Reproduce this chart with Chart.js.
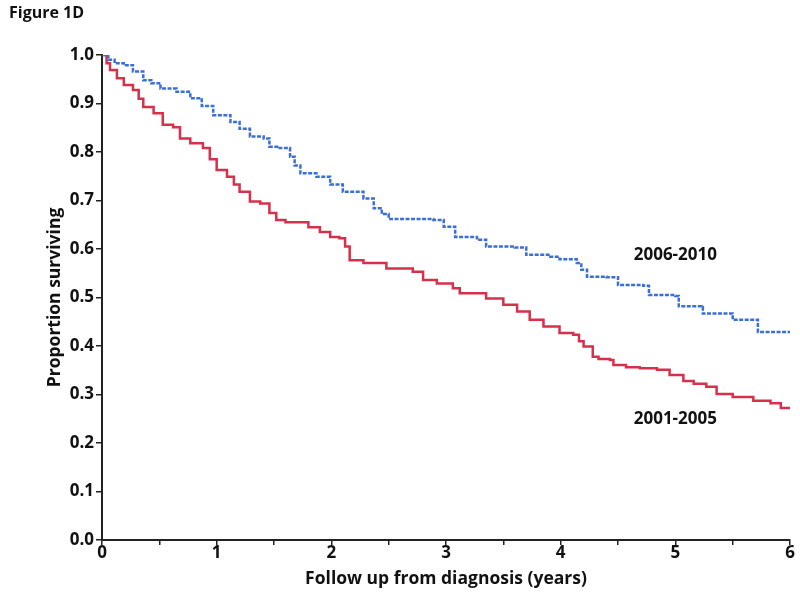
<!DOCTYPE html>
<html>
<head>
<meta charset="utf-8">
<script src="https://cdn.jsdelivr.net/npm/chart.js@4"></script>
<style>
  html, body { margin: 0; padding: 0; background: #fff; }
  .wrap { position: relative; width: 800px; height: 594px; }
  .fig-title { position: absolute; left: 9px; top: 1px; font: bold 16px "Open Sans", sans-serif; color: #111; }
</style>
</head>
<body>
<div class="wrap">
  <div class="fig-title">Figure 1D</div>
  <canvas id="km" width="800" height="594"></canvas>
</div>
<script>
// survival: [years, proportion]
const late = [ // 2006-2010
  [0, 1.0], [0.055, 0.99], [0.11, 0.983], [0.19, 0.979], [0.27, 0.966], [0.36, 0.948],
  [0.43, 0.942], [0.51, 0.931], [0.65, 0.924],
  [0.77, 0.911], [0.87, 0.895], [0.97, 0.876], [1.12, 0.862], [1.2, 0.848], [1.29, 0.832], [1.41, 0.828], [1.46, 0.811],
  [1.55, 0.808], [1.64, 0.79], [1.68, 0.772], [1.73, 0.756], [1.87, 0.749], [1.99, 0.733], [2.10, 0.718],
  [2.28, 0.704], [2.37, 0.684], [2.44, 0.672], [2.50, 0.662], [2.89, 0.66], [2.98, 0.646], [3.08, 0.625],
  [3.27, 0.619], [3.35, 0.605], [3.60, 0.603], [3.70, 0.588], [3.91, 0.584], [3.99, 0.579],
  [4.14, 0.571], [4.18, 0.557], [4.23, 0.543], [4.40, 0.542], [4.50, 0.526], [4.72, 0.524], [4.77, 0.505],
  [5.0, 0.503], [5.03, 0.482], [5.23, 0.480], [5.24, 0.467], [5.50, 0.454], [5.72, 0.429],
  [6.0, 0.429]
];
const early = [ // 2001-2005
  [0, 1.0], [0.04, 0.983], [0.07, 0.969], [0.13, 0.952], [0.19, 0.938], [0.27, 0.928], [0.32, 0.91], [0.36, 0.893], [0.45, 0.880],
  [0.53, 0.856], [0.62, 0.851], [0.68, 0.828], [0.77, 0.818], [0.88, 0.808], [0.94, 0.785], [1.0, 0.763],
  [1.09, 0.749], [1.15, 0.733], [1.2, 0.718], [1.29, 0.698], [1.38, 0.694], [1.46, 0.674], [1.52, 0.66],
  [1.6, 0.655], [1.8, 0.645], [1.9, 0.635], [1.99, 0.625], [2.07, 0.622], [2.12, 0.605],
  [2.16, 0.577], [2.28, 0.571], [2.48, 0.560], [2.71, 0.553], [2.80, 0.536], [2.92, 0.529],
  [3.06, 0.519], [3.12, 0.509], [3.35, 0.498], [3.50, 0.485], [3.62, 0.471], [3.73, 0.454],
  [3.85, 0.44], [3.99, 0.427], [4.11, 0.423], [4.16, 0.41], [4.20, 0.399], [4.28, 0.378], [4.33, 0.373],
  [4.43, 0.371], [4.46, 0.361], [4.57, 0.356], [4.69, 0.354], [4.84, 0.351], [4.95, 0.340],
  [5.07, 0.328], [5.16, 0.322], [5.27, 0.316], [5.36, 0.301], [5.50, 0.295], [5.68, 0.287],
  [5.83, 0.282], [5.92, 0.272], [6.0, 0.272]
];
const seriesNames = ['2006-2010', '2001-2005'];
const seriesColors = ['#3b6fd6', '#d6304b'];
// where the series names sit, in data units
const nameSpots = [[5.0, 0.588], [5.0, 0.249]];

const font = { family: '"Open Sans", sans-serif', weight: 'bold', size: 17.5 };

const seriesLabels = {
  id: 'seriesLabels',
  afterDatasetsDraw(chart) {
    const { ctx, scales: { x, y } } = chart;
    ctx.save();
    ctx.font = 'bold 17px "Open Sans", sans-serif';
    ctx.fillStyle = '#111';
    ctx.textAlign = 'center';
    ctx.textBaseline = 'middle';
    seriesNames.forEach((n, i) => {
      ctx.fillText(n, x.getPixelForValue(nameSpots[i][0]), y.getPixelForValue(nameSpots[i][1]));
    });
    ctx.restore();
  }
};

new Chart(document.getElementById('km'), {
  type: 'line',
  data: {
    datasets: [
      {
        label: seriesNames[0],
        data: late.map(p => ({ x: p[0], y: p[1] })),
        borderColor: seriesColors[0],
        borderWidth: 2.5,
        borderDash: [4, 1.5],
        stepped: 'before',
        pointRadius: 0,
        fill: false,
      },
      {
        label: seriesNames[1],
        data: early.map(p => ({ x: p[0], y: p[1] })),
        borderColor: seriesColors[1],
        borderWidth: 2.5,
        stepped: 'before',
        pointRadius: 0,
        fill: false,
      },
    ],
  },
  options: {
    responsive: false,
    animation: false,
    layout: { padding: { top: 55, right: 10, left: 0, bottom: 0 } },
    plugins: { legend: { display: false }, tooltip: { enabled: false } },
    scales: {
      x: {
        type: 'linear',
        min: 0, max: 6,
        ticks: {
          stepSize: 0.5,
          color: '#111',
          font: { ...font, size: 17 },
          padding: -2,
          autoSkip: false,
          maxRotation: 0,
          callback: v => (Number.isInteger(v) ? v : ''),
        },
        grid: { drawOnChartArea: false, drawTicks: true, tickLength: 5, color: '#222', lineWidth: 1.5 },
        border: { color: '#222', width: 2 },
        title: { display: true, text: 'Follow up from diagnosis (years)', color: '#111', font, padding: { top: 0, bottom: 4 } },
        afterFit: s => { s.height = 54; },
      },
      y: {
        min: 0, max: 1,
        ticks: {
          stepSize: 0.1,
          color: '#111',
          font: { ...font, size: 17 },
          padding: 2,
          callback: v => v.toFixed(1),
        },
        grid: { drawOnChartArea: false, drawTicks: true, tickLength: 6, color: '#222', lineWidth: 1.5 },
        border: { color: '#222', width: 2 },
        title: { display: true, text: 'Proportion surviving', color: '#111', font, padding: { top: 45, bottom: 0 } },
        afterFit: s => { s.width = 102; },
      },
    },
  },
  plugins: [seriesLabels],
});
</script>
</body>
</html>
